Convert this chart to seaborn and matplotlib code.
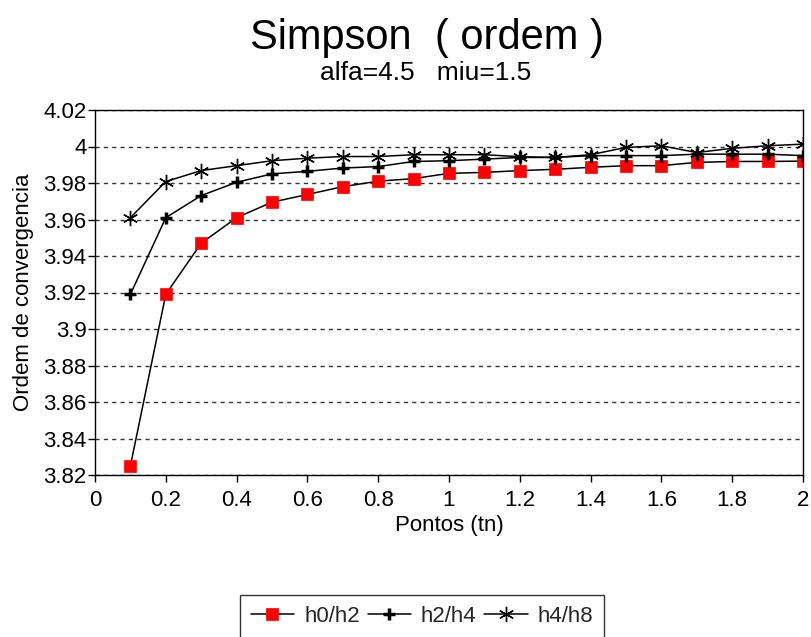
import matplotlib
matplotlib.use("Agg")
import matplotlib.pyplot as plt
import seaborn as sns
import pandas as pd

x_points = [0.1, 0.2, 0.3, 0.4, 0.5, 0.6, 0.7, 0.8, 0.9, 1.0,
            1.1, 1.2, 1.3, 1.4, 1.5, 1.6, 1.7, 1.8, 1.9, 2.0]
h0_h2 = [3.825, 3.919, 3.947, 3.961, 3.9695, 3.9737, 3.978, 3.981, 3.9824, 3.9853,
         3.9858, 3.9868, 3.9875, 3.9886, 3.9895, 3.9895, 3.9913, 3.9918, 3.9918, 3.992]
h2_h4 = [3.919, 3.961, 3.9731, 3.9804, 3.985, 3.9864, 3.9882, 3.989, 3.9918, 3.9922,
         3.9931, 3.994, 3.994, 3.995, 3.995, 3.995, 3.9958, 3.9958, 3.9958, 3.995]
h4_h8 = [3.961, 3.9808, 3.9868, 3.9895, 3.9922, 3.9936, 3.9945, 3.9945, 3.9955, 3.9955,
         3.9955, 3.9944, 3.994, 3.9955, 3.9995, 4.0004, 3.9967, 3.999, 4.0004, 4.0013]
series_names = ["h0/h2", "h2/h4", "h4/h8"]
y_ticks = [3.82, 3.84, 3.86, 3.88, 3.9, 3.92, 3.94, 3.96, 3.98, 4.0, 4.02]
y_tick_labels = ["3.82", "3.84", "3.86", "3.88", "3.9", "3.92", "3.94", "3.96", "3.98", "4", "4.02"]
x_ticks = [0, 0.2, 0.4, 0.6, 0.8, 1.0, 1.2, 1.4, 1.6, 1.8, 2.0]
x_tick_labels = ["0", "0.2", "0.4", "0.6", "0.8", "1", "1.2", "1.4", "1.6", "1.8", "2"]

sns.set_theme(style="white")
plt.rcParams['font.family'] = ['Liberation Sans', 'DejaVu Sans']

fig = plt.figure(figsize=(8.11, 6.37), dpi=100)
ax = fig.add_axes([95 / 811, 1 - 475 / 637, (803 - 95) / 811, (475 - 110) / 637])

df = pd.DataFrame({"x": x_points * 3,
                   "y": h0_h2 + h2_h4 + h4_h8,
                   "serie": sum([[n] * len(x_points) for n in series_names], [])})

styles = {
    "h0/h2": dict(marker="s", markersize=8, markerfacecolor="#ff0000", markeredgecolor="#ff0000", markeredgewidth=0.5),
    "h2/h4": dict(marker="+", markersize=9, markerfacecolor="black", markeredgecolor="black", markeredgewidth=2.5),
    "h4/h8": dict(marker=(6, 2, 0), markersize=11, markerfacecolor="black", markeredgecolor="black", markeredgewidth=1.0),
}

for name in series_names:
    sub = df[df["serie"] == name]
    sns.lineplot(data=sub, x="x", y="y", ax=ax, color="black", linewidth=1.1,
                 label=name, estimator=None, **styles[name])

ax.set_xlim(0, 2)
ax.set_ylim(3.82, 4.02)
ax.set_xticks(x_ticks)
ax.set_xticklabels(x_tick_labels)
ax.set_yticks(y_ticks)
ax.set_yticklabels(y_tick_labels)
ax.tick_params(axis="both", direction="out", length=5, width=1, color="black",
               labelsize=16, labelcolor="black", bottom=True, left=True, pad=1)
ax.tick_params(axis="x", pad=6)
for s in ax.spines.values():
    s.set_visible(True)
    s.set_color("black")
    s.set_linewidth(1.0)
ax.yaxis.grid(True, linestyle=(0, (3, 3)), color="#333333", linewidth=1.0)
ax.xaxis.grid(False)
ax.set_axisbelow(True)
ax.set_xlabel("Pontos (tn)", fontsize=16, color="black", labelpad=3)
ax.set_ylabel("Ordem de convergencia", fontsize=16, color="black", labelpad=7)

fig.text(427 / 811, 1 - 49 / 637, "Simpson  ( ordem )", fontsize=30, ha="center", va="baseline", color="black")
fig.text(426 / 811, 1 - 80 / 637, "alfa=4.5   miu=1.5", fontsize=19, ha="center", va="baseline", color="black")

ax.get_legend().remove()
handles, labels = ax.get_legend_handles_labels()
leg = fig.legend(handles, labels, loc="upper center", bbox_to_anchor=(422 / 811, 1 - 595 / 637),
                 ncol=3, frameon=True, fontsize=16, fancybox=False, edgecolor="black",
                 handlelength=1.95, handletextpad=0.45, columnspacing=0.35, borderpad=0.5,
                 borderaxespad=0)
leg.get_frame().set_linewidth(1.0)

fig.savefig("out.png", dpi=100)
